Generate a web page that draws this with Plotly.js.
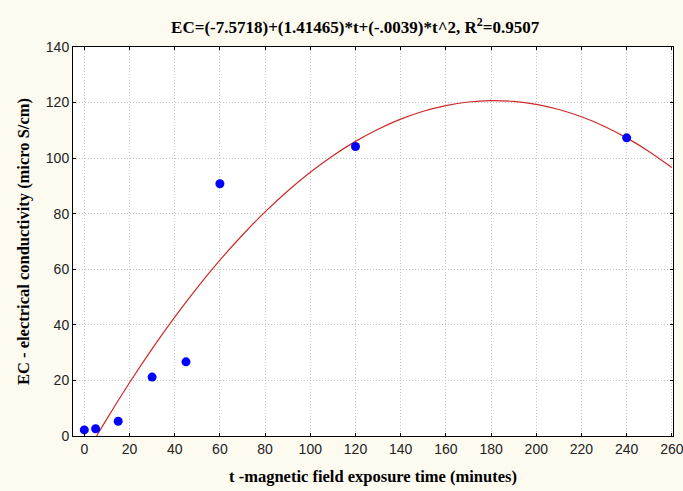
<!DOCTYPE html>
<html>
<head>
<meta charset="utf-8">
<script src="https://cdn.plot.ly/plotly-3.0.1.min.js"></script>
<style>html,body{margin:0;padding:0;background:#fdfaf0;}#chart{width:683px;height:491px;}</style>
</head>
<body>
<div id="chart"></div>
<script>
// Observed data points
const timeMinutes = [0, 5, 15, 30, 45, 60, 120, 240];
const ecValues = [2.2, 2.6, 5.3, 21.2, 26.7, 90.8, 104.2, 107.3];

// Fitted curve
const fitTime = [5.43, 10, 20, 30, 40, 50, 60, 70, 80, 90, 100, 110, 120, 130, 140, 150, 160, 170, 180, 190, 200, 210, 220, 230, 240, 250, 260];
const fitEC = [0, 6.18, 19.16, 31.36, 42.77, 53.41, 63.27, 72.34, 80.64, 88.16, 94.89, 100.85, 106.03, 110.42, 114.04, 116.88, 118.93, 120.21, 120.71, 120.42, 119.36, 117.51, 114.89, 111.49, 107.30, 102.34, 96.60];

const xTicks = [0, 20, 40, 60, 80, 100, 120, 140, 160, 180, 200, 220, 240, 260];
const yTicks = [0, 20, 40, 60, 80, 100, 120, 140];

const titleText = 'EC=(-7.5718)+(1.41465)*t+(-.0039)*t^2, R<sup>2</sup>=0.9507';
const xTitle = 't -magnetic field exposure time (minutes)';
const yTitle = 'EC - electrical conductivity (micro S/cm)';

const traces = [
  {
    x: fitTime, y: fitEC, type: 'scatter', mode: 'lines',
    line: {color: '#cc2a2a', width: 1.2, shape: 'spline'},
    hoverinfo: 'skip', cliponaxis: true
  },
  {
    x: timeMinutes, y: ecValues, type: 'scatter', mode: 'markers',
    marker: {color: '#0000ff', size: 9, symbol: 'circle'}
  }
];

const axisCommon = {
  showline: true, linecolor: '#000', linewidth: 1, mirror: 'allticks',
  ticks: 'inside', ticklen: 3, tickcolor: '#000',
  showgrid: true, gridcolor: '#c4c4c4', griddash: '1px,2px', gridwidth: 1,
  zeroline: false, ticklabeloverflow: 'allow',
  tickfont: {family: 'Liberation Sans, Arial, sans-serif', size: 14, color: '#222'}
};

const serif = 'Liberation Serif, Times New Roman, serif';

const layout = {
  width: 683, height: 491,
  paper_bgcolor: '#fdfaf0', plot_bgcolor: '#ffffff',
  margin: {l: 73, r: 10, t: 47, b: 55},
  showlegend: false,
  title: {
    text: titleText, x: 0.52, xanchor: 'center', y: 0.945, yanchor: 'middle',
    font: {family: serif, size: 17, color: '#000', weight: 'bold'}
  },
  xaxis: Object.assign({}, axisCommon, {
    range: [-5, 260.5], tickvals: xTicks, ticktext: xTicks.map(String),
    title: {text: xTitle, standoff: 14,
      font: {family: serif, size: 16.5, color: '#000', weight: 'bold'}}
  }),
  yaxis: Object.assign({}, axisCommon, {
    range: [0, 140], tickvals: yTicks, ticktext: yTicks.map(String),
    title: {text: yTitle, standoff: 12,
      font: {family: serif, size: 16.5, color: '#000', weight: 'bold'}}
  })
};

Plotly.newPlot('chart', traces, layout, {displayModeBar: false, staticPlot: true});
</script>
</body>
</html>
